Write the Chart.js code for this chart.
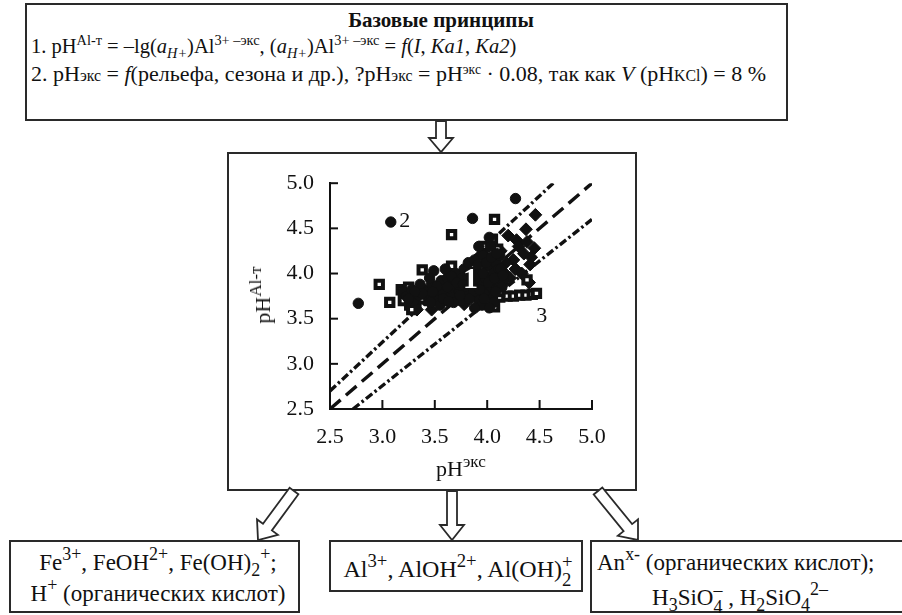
<!DOCTYPE html>
<html>
<head>
<meta charset="utf-8">
<script src="https://cdn.jsdelivr.net/npm/chart.js@4.4.1/dist/chart.umd.min.js"></script>
<style>
	body {
		margin: 0;
		width: 902px;
		height: 615px;
		overflow: hidden;
		background: #fff;
		font-family: "Liberation Serif", "Times New Roman", "DejaVu Serif", serif;
		color: #111;
	}
	.box {
		position: absolute;
		border: 2px solid #2a2a2a;
		box-sizing: border-box;
		background: #fff;
	}
	.txt {
		position: absolute;
		white-space: nowrap;
		font-size: 22px;
		line-height: 1;
	}
	.txt.big {
		font-size: 23px;
	}
	sup {
		font-size: 0.62em;
		vertical-align: 0.55em;
		line-height: 0;
	}
	sub {
		font-size: 0.62em;
		vertical-align: -0.35em;
		line-height: 0;
	}
	.line1 sup, .line1 sub {
		font-size: 0.7em;
	}
	.axis sup {
		font-size: 0.78em;
	}
	.big sup, .big sub {
		font-size: 0.78em;
	}
	.sm {
		font-size: 0.72em;
	}
	.stack {
		display: inline-block;
		vertical-align: -0.45em;
		font-size: 0.78em;
		line-height: 0.95;
		text-align: left;
	}
	.stack span {
		display: block;
	}
	#chart_wrap {
		position: absolute;
		left: 229px;
		top: 154px;
		width: 406px;
		height: 336px;
	}
	svg {
		position: absolute;
		left: 0;
		top: 0;
	}
</style>
</head>
<body>

<div class="box" style="left:25px; top:3px; width:763px; height:118px;"></div>
<div class="txt" style="left:441px; top:10px; transform:translateX(-50%); font-weight:bold; font-size:21px;">Базовые принципы</div>
<div class="txt line1" style="left:31px; top:36px; font-size:20.5px;">1. pH<sup>Al-т</sup> = –lg(<i>a</i><sub><i>H+</i></sub>)Al<sup>3+ –экс</sup>, (<i>a</i><sub><i>H+</i></sub>)Al<sup>3+ –экс</sup> = <i>f</i>(<i>I</i>, <i>Ka1</i>, <i>Ka2</i>)</div>
<div class="txt" style="left:31px; top:63px;">2. pH<span class="sm">экс</span> = <i>f</i>(рельефа, сезона и др.), ?pH<span class="sm">экс</span> = pH<sup>экс</sup> · 0.08, так как <i>V</i> (pH<span class="sm">KCl</span>) = 8 %</div>

<div class="box" style="left:227px; top:152px; width:410px; height:339px;"></div>
<div id="chart_wrap"><canvas id="chart"></canvas></div>
<div class="txt axis" style="left:263px; top:295px; transform:translate(-50%, -50%) rotate(-90deg);">pH<sup>Al-т</sup></div>
<div class="txt axis" style="left:461px; top:458px; transform:translateX(-50%);">pH<sup>экс</sup></div>

<div class="box" style="left:9px; top:540px; width:291px; height:73px;"></div>
<div class="txt big" style="left:158px; top:551px; transform:translateX(-50%);">Fe<sup>3+</sup>, FeOH<sup>2+</sup>, Fe(OH)<sub>2</sub><sup>+</sup>;</div>
<div class="txt big" style="left:158px; top:582px; transform:translateX(-50%);">H<sup>+</sup> (органических кислот)</div>

<div class="box" style="left:329px; top:540px; width:254px; height:52px;"></div>
<div class="txt big" style="left:458px; top:553px; transform:translateX(-50%); font-size:24px;">Al<sup>3+</sup>, AlOH<sup>2+</sup>, Al(OH)<span class="stack"><span>+</span><span>2</span></span></div>

<div class="box" style="left:590px; top:540px; width:330px; height:73px;"></div>
<div class="txt big" style="left:597px; top:551px;">An<sup>x-</sup> (органических кислот);</div>
<div class="txt big" style="left:740px; top:582px; transform:translateX(-50%);">H<sub>3</sub>SiO<span class="stack"><span>–</span><span>4</span></span> , H<sub>2</sub>SiO<sub>4</sub><sup>2–</sup></div>

<svg id="arrows" width="902" height="615"></svg>

<script>
	// Scatter values: pH(экс) on x, pH(Al-т) on y
	const circle_x = [2.77, 3.08, 3.86, 4.27, 3.49, 3.20, 3.23, 3.28, 3.30, 3.35, 3.40, 3.43, 3.47, 3.50, 3.53, 3.56, 3.58, 3.62, 3.65, 3.68, 3.70, 3.73, 3.76, 3.78, 3.80, 3.82, 3.84, 3.87, 3.88, 3.90, 3.92, 3.94, 3.96, 3.98, 4.00, 4.00, 4.03, 4.05, 4.06, 4.08, 4.10, 4.12, 4.14, 3.85, 3.75, 3.92, 4.02, 3.95, 4.06, 3.88, 3.55, 3.36, 3.45, 3.60, 3.68, 3.72, 3.79, 3.83, 3.97, 4.04, 4.11, 3.64, 3.52, 3.41, 3.62, 3.66, 3.71, 3.74, 3.77, 3.81, 3.86, 3.89, 3.91, 3.93, 3.96, 3.99, 4.01, 4.04, 4.07, 4.09, 4.13, 3.58, 3.48, 3.38, 3.31, 3.25, 3.46, 3.63, 3.97, 4.15, 4.08, 4.02]
	const circle_y = [3.67, 4.57, 4.61, 4.83, 4.03, 3.80, 3.75, 3.82, 3.70, 3.76, 3.82, 3.74, 3.88, 3.78, 3.70, 3.92, 3.80, 3.95, 3.75, 3.90, 4.00, 3.82, 3.95, 4.05, 3.78, 4.12, 3.92, 3.80, 4.15, 4.02, 3.70, 3.88, 4.20, 3.95, 4.08, 3.82, 4.30, 3.75, 4.00, 4.12, 3.90, 4.20, 3.85, 4.00, 3.70, 4.30, 4.40, 3.65, 3.68, 3.62, 3.65, 3.88, 3.95, 4.05, 3.68, 3.88, 3.86, 3.72, 3.78, 3.92, 4.05, 3.84, 3.86, 3.79, 3.85, 3.97, 3.90, 3.76, 3.88, 3.98, 3.88, 3.95, 4.10, 3.82, 4.00, 4.12, 3.90, 4.18, 3.95, 4.22, 4.05, 3.72, 3.80, 3.78, 3.80, 3.72, 3.68, 3.69, 3.72, 3.98, 3.80, 3.62]

	const square_x = [2.97, 3.07, 3.38, 3.66, 4.07, 4.10, 4.38, 4.12, 4.19, 4.25, 4.31, 4.37, 4.43, 4.47, 4.07, 3.18, 3.22, 3.20, 3.26, 3.28, 3.30, 3.32, 3.35, 3.38, 3.25, 3.42, 3.45, 3.50, 3.55, 3.58, 3.62, 3.66, 3.70, 3.75, 3.80, 3.85, 3.90, 3.95, 3.98, 4.00, 4.02, 4.05, 4.08, 4.10, 4.12, 4.15, 4.03, 3.93, 3.97, 4.05]
	const square_y = [3.88, 3.68, 4.04, 4.43, 4.60, 4.27, 3.93, 3.74, 3.75, 3.75, 3.76, 3.76, 3.77, 3.78, 3.63, 3.82, 3.78, 3.70, 3.65, 3.60, 3.75, 3.68, 3.80, 3.72, 3.85, 3.78, 3.70, 3.82, 3.76, 3.88, 3.80, 4.08, 3.86, 3.94, 3.85, 4.00, 3.90, 4.05, 3.78, 3.70, 3.95, 4.15, 3.88, 4.05, 3.80, 3.95, 4.25, 4.15, 4.30, 4.38]

	const diamond_x = [4.46, 4.37, 4.28, 4.20, 4.35, 4.45, 4.41, 4.25, 4.17, 4.33, 4.40, 4.22, 4.30, 4.38, 4.13, 4.18, 3.78, 3.65, 3.47, 3.33, 4.02, 3.90, 3.72, 3.60, 3.85, 4.00, 4.27, 4.42, 4.15]
	const diamond_y = [4.65, 4.49, 4.37, 4.42, 4.22, 4.28, 4.10, 4.15, 4.00, 4.00, 3.90, 3.95, 4.30, 4.35, 4.25, 4.12, 3.66, 3.72, 3.60, 3.60, 3.85, 3.75, 3.80, 3.85, 3.82, 4.18, 4.05, 4.18, 3.88]

	// Reference lines: 1:1 and ±8 %
	const equal_x = [2.5, 5.0]
	const equal_y = [2.5, 5.0]
	const upper_x = [2.5, 4.63]
	const upper_y = [2.7, 5.0]
	const lower_x = [2.72, 5.0]
	const lower_y = [2.5, 4.6]

	const tick_values = [2.5, 3.0, 3.5, 4.0, 4.5, 5.0]

	const note_text = ["1", "2", "3"]
	const note_x = [3.84, 3.16, 4.52]
	const note_y = [3.93, 4.58, 3.53]

	const to_points = (xs, ys) => xs.map((x, i) => ({ x, y: ys[i] }))

	const INK = "#111"
	const FONT = "'Liberation Serif', 'Times New Roman', 'DejaVu Serif', serif"

	const line_set = (xs, ys, dash) => ({
		type: "line",
		data: to_points(xs, ys),
		borderColor: INK,
		borderWidth: 3.4,
		borderDash: dash,
		pointRadius: 0,
		fill: false,
		order: 10
	})

	// Inward tick marks drawn on the library's scales
	const inner_ticks = {
		id: "inner_ticks",
		afterDraw(chart) {
			const { ctx, scales: { x, y }, chartArea } = chart
			ctx.save()
			ctx.strokeStyle = INK
			ctx.lineWidth = 2
			tick_values.forEach(v => {
				const py = y.getPixelForValue(v)
				ctx.beginPath()
				ctx.moveTo(chartArea.left, py)
				ctx.lineTo(chartArea.left + 8, py)
				ctx.stroke()

				const px = x.getPixelForValue(v)
				ctx.beginPath()
				ctx.moveTo(px, chartArea.bottom)
				ctx.lineTo(px, chartArea.bottom - 9)
				ctx.stroke()
			})
			ctx.restore()
		}
	}

	const notes = {
		id: "notes",
		afterDatasetsDraw(chart) {
			const { ctx, scales: { x, y } } = chart
			ctx.save()
			ctx.textBaseline = "middle"

			// "1" sits on the black cluster: white with a dark outline
			ctx.font = "bold 30px " + FONT
			ctx.textAlign = "center"
			ctx.lineJoin = "round"
			ctx.lineWidth = 4
			ctx.strokeStyle = INK
			ctx.strokeText(note_text[0], x.getPixelForValue(note_x[0]), y.getPixelForValue(note_y[0]))
			ctx.fillStyle = "#fff"
			ctx.fillText(note_text[0], x.getPixelForValue(note_x[0]), y.getPixelForValue(note_y[0]))

			ctx.font = "22px " + FONT
			ctx.fillStyle = INK
			ctx.textAlign = "left"
			ctx.fillText(note_text[1], x.getPixelForValue(note_x[1]), y.getPixelForValue(note_y[1]))
			ctx.textAlign = "center"
			ctx.fillText(note_text[2], x.getPixelForValue(note_x[2]), y.getPixelForValue(note_y[2]))
			ctx.restore()
		}
	}

	new Chart(document.getElementById("chart"), {
		type: "scatter",
		data: {
			datasets: [
				{
					data: to_points(circle_x, circle_y),
					pointStyle: "circle",
					pointRadius: 5.2,
					backgroundColor: INK,
					borderColor: INK,
					borderWidth: 1,
					order: 1
				},
				{
					data: to_points(square_x, square_y),
					pointStyle: "rect",
					pointRadius: 5.2,
					backgroundColor: "#fff",
					borderColor: INK,
					borderWidth: 4,
					order: 2
				},
				{
					data: to_points(diamond_x, diamond_y),
					pointStyle: "rectRot",
					pointRadius: 6.4,
					backgroundColor: INK,
					borderColor: INK,
					borderWidth: 1,
					order: 3
				},
				line_set(equal_x, equal_y, [14, 7]),
				line_set(upper_x, upper_y, [8, 3, 2.5, 3]),
				line_set(lower_x, lower_y, [8, 3, 2.5, 3])
			]
		},
		options: {
			responsive: true,
			maintainAspectRatio: false,
			animation: false,
			layout: {
				padding: { left: 0, top: 22, right: 43, bottom: 0 }
			},
			plugins: {
				legend: { display: false },
				tooltip: { enabled: false }
			},
			scales: {
				x: {
					type: "linear",
					min: 2.5,
					max: 5.0,
					afterFit: scale => { scale.height = 81 },
					grid: { display: false, drawTicks: false },
					border: { display: true, color: INK, width: 2 },
					ticks: {
						stepSize: 0.5,
						padding: 15,
						color: INK,
						font: { family: FONT, size: 22 },
						callback: v => v.toFixed(1)
					}
				},
				y: {
					type: "linear",
					min: 2.5,
					max: 5.0,
					afterFit: scale => { scale.width = 101 },
					grid: { display: false, drawTicks: false },
					border: { display: true, color: INK, width: 2 },
					ticks: {
						stepSize: 0.5,
						padding: 16,
						color: INK,
						font: { family: FONT, size: 22 },
						callback: v => v.toFixed(1)
					}
				}
			}
		},
		plugins: [inner_ticks, notes]
	})

	// Hollow block arrows between the boxes
	const arrow_path = (x1, y1, x2, y2, stem, head, head_len) => {
		const len = Math.hypot(x2 - x1, y2 - y1)
		const dx = (x2 - x1) / len
		const dy = (y2 - y1) / len
		const nx = -dy
		const ny = dx
		const bx = x2 - dx * head_len
		const by = y2 - dy * head_len
		const pts = [
			[x1 + nx * stem / 2, y1 + ny * stem / 2],
			[bx + nx * stem / 2, by + ny * stem / 2],
			[bx + nx * head / 2, by + ny * head / 2],
			[x2, y2],
			[bx - nx * head / 2, by - ny * head / 2],
			[bx - nx * stem / 2, by - ny * stem / 2],
			[x1 - nx * stem / 2, y1 - ny * stem / 2]
		]
		return pts.map(p => p[0].toFixed(1) + "," + p[1].toFixed(1)).join(" ")
	}

	const arrows = [
		[441, 121, 441, 152, 10, 24, 14],
		[294, 491, 258, 540, 11, 26, 16],
		[452, 491, 452, 540, 10, 24, 15],
		[598, 491, 638, 540, 11, 26, 16]
	]

	const svg = document.getElementById("arrows")
	svg.innerHTML = arrows.map(a =>
		`<polygon points="${arrow_path(...a)}" fill="#fff" stroke="#2a2a2a" stroke-width="1.8" stroke-linejoin="miter"/>`
	).join("")
</script>
</body>
</html>
